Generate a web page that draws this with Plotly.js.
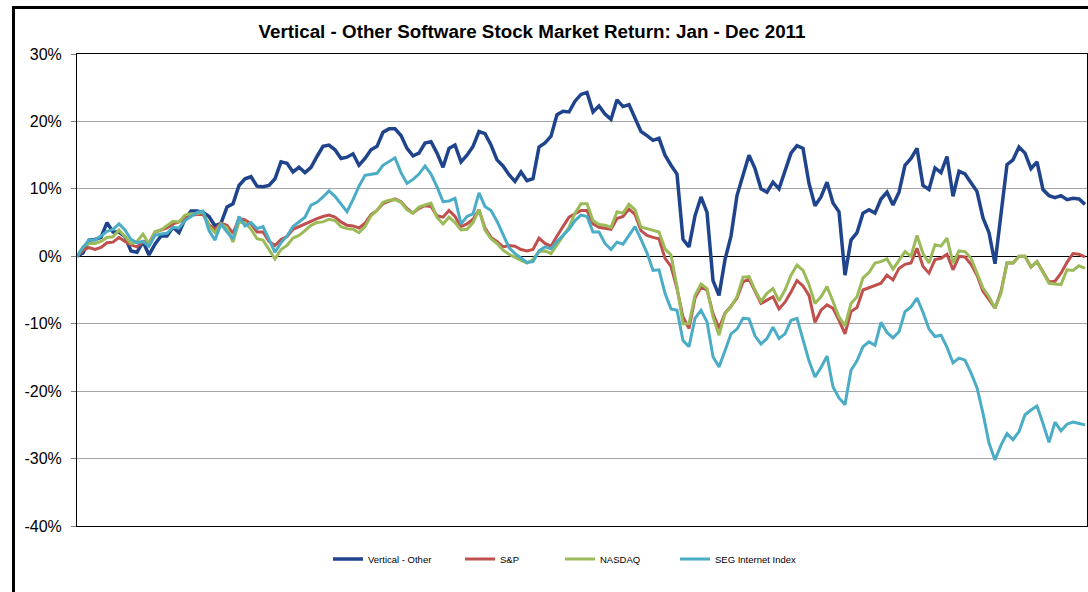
<!DOCTYPE html>
<html>
<head>
<meta charset="utf-8">
<script src="https://cdn.plot.ly/plotly-3.0.1.min.js"></script>
<style>
html,body{margin:0;padding:0;background:#fff;}
#chart{width:1088px;height:592px;}
</style>
</head>
<body>
<div id="chart"></div>
<script>
// Series names
const seriesNames = ["Vertical - Other", "S&P", "NASDAQ", "SEG Internet Index"];

// Return (%) sampled every ~2 trading days, Jan - Dec 2011
const verticalOther = [0,0.5,2.4,2.5,2.8,5.0,3.6,3.6,2.9,0.8,0.6,2.2,0.2,1.8,3.0,3.0,4.3,3.5,5.5,6.7,
6.7,6.5,5.9,4.5,4.9,7.3,7.8,10.5,11.5,11.8,10.4,10.3,10.5,11.5,14.0,13.8,12.5,13.2,12.4,13.2,
14.8,16.3,16.5,15.8,14.5,14.7,15.2,13.5,14.5,15.8,16.3,18.4,18.9,18.9,17.9,16.0,14.9,15.3,16.8,17.0,
15.3,13.2,16.0,16.5,14.0,15.0,16.3,18.5,18.2,16.5,14.3,13.4,12.1,11.1,12.5,11.2,11.5,16.2,16.8,17.8,
21.0,21.5,21.4,23.0,24.0,24.3,21.4,22.3,21.1,20.3,23.2,22.2,22.5,20.6,18.5,17.9,17.2,17.5,15.0,13.5,
12.2,2.5,1.4,6.0,8.8,6.5,-3.6,-5.8,-0.5,3.0,9.0,12.0,15.0,13.0,10.0,9.5,11.0,10.0,12.7,15.3,
16.4,16.0,10.8,7.5,8.8,11.0,7.9,6.6,-2.8,2.4,3.5,6.4,6.9,6.4,8.5,9.5,7.6,9.5,13.5,14.5,
16.0,10.5,9.9,13.1,12.4,14.8,8.9,12.6,12.2,11.0,9.6,5.7,3.5,-1.1,6.0,13.6,14.3,16.2,15.3,13.0,
14.0,9.9,9.0,8.7,9.0,8.4,8.6,8.5,7.7];

const sp = [0,0.9,1.3,1.0,1.3,2.0,2.1,2.8,2.2,1.7,1.4,2.2,2.0,3.6,3.9,4.2,4.8,5.1,5.6,6.1,
6.2,6.2,4.7,4.0,4.9,4.6,3.4,5.6,5.4,4.8,3.6,3.6,2.2,1.6,2.5,2.9,4.0,4.4,4.8,5.3,
5.6,5.9,6.1,5.8,5.1,4.6,4.5,4.2,4.9,6.2,6.8,7.8,8.2,8.5,8.1,7.1,6.4,7.1,7.5,7.4,
6.0,5.8,6.8,5.9,4.4,4.8,5.5,6.9,4.2,2.8,2.2,1.4,1.6,1.5,1.0,0.8,1.0,2.7,1.9,1.5,
3.0,4.4,5.8,6.3,6.8,6.8,4.8,4.3,4.2,4.0,5.6,5.9,7.0,6.2,3.8,3.1,2.8,2.6,-0.3,-1.5,
-4.8,-9.0,-10.7,-6.2,-4.6,-5.0,-8.5,-10.7,-8.4,-7.4,-6.2,-3.8,-3.4,-5.2,-7.0,-6.5,-6.0,-7.8,-6.8,-5.3,
-3.6,-4.4,-5.8,-9.8,-8.0,-7.2,-7.7,-9.5,-11.5,-8.2,-7.6,-5.0,-4.7,-4.3,-4.0,-2.8,-3.5,-1.8,-1.2,-1.0,
1.2,-1.5,-2.5,-0.5,-0.3,0.3,-2.0,0,-0.1,-1.2,-2.8,-5.2,-6.5,-7.7,-5.2,-1.0,-1.0,0,0,-1.6,
-0.8,-2.2,-3.8,-3.7,-2.5,-0.9,0.4,0.3,-0.1];

const nasdaq = [0,1.4,1.9,1.9,2.2,2.8,2.9,3.9,2.9,1.9,2.2,3.3,1.8,3.6,3.9,4.5,5.2,5.1,6.1,6.3,
6.3,6.6,4.5,3.5,4.8,4.2,2.1,5.1,5.0,4.0,2.6,2.4,1.0,-0.4,1.0,1.6,2.7,3.1,3.8,4.6,
5.0,5.1,5.5,5.3,4.4,4.1,4.0,3.5,4.4,6.0,6.8,8.0,8.3,8.4,8.0,6.9,6.4,7.3,7.6,7.9,
5.8,4.8,5.8,5.0,3.9,4.0,5.0,6.9,3.9,2.6,1.9,0.9,0.3,-0.2,-0.6,-1.0,-0.5,0.7,0.8,0.4,
1.7,3.0,4.3,6.4,7.8,7.8,5.3,4.7,4.6,4.3,6.6,6.4,7.7,6.9,4.3,4.1,3.9,3.6,1.1,0.2,
-4.5,-10.0,-10.0,-5.8,-4.1,-4.8,-9.0,-11.7,-8.5,-7.5,-6.0,-3.1,-3.0,-5.0,-6.7,-5.5,-4.8,-6.6,-5.0,-2.8,
-1.3,-2.1,-4.2,-7.0,-6.0,-4.5,-6.7,-9.0,-10.3,-7.0,-6.0,-3.2,-2.4,-1.0,-0.8,-0.4,-1.9,-0.6,0.7,0,
3.1,0.4,-1.0,1.7,1.5,2.7,-1.0,0.8,0.7,-0.3,-2.5,-4.7,-6.0,-7.7,-5.5,-1.0,-1.0,0,0,-1.6,
-0.8,-2.3,-4.0,-4.1,-4.2,-2.0,-2.1,-1.4,-1.8];

const segInternet = [0,1.3,2.4,2.4,3.0,3.7,4.0,4.8,3.9,2.5,2.0,2.2,1.5,3.1,3.3,3.4,4.3,4.2,5.3,5.9,
6.5,6.7,3.8,2.4,4.8,3.6,2.6,5.9,4.5,5.0,4.1,4.4,2.5,0.6,2.0,3.0,4.4,5.1,5.8,7.6,
8.0,8.8,9.7,8.9,7.8,6.6,8.4,10.4,12.0,12.2,12.3,13.5,14.0,14.6,12.4,10.8,11.4,12.2,13.4,12.2,
10.3,8.1,8.2,8.6,4.8,5.9,6.3,9.4,7.4,6.8,5.2,3.2,1.3,0.4,-0.2,-0.9,-0.8,0.8,1.4,1.1,
2.2,3.1,4.0,5.3,6.1,5.9,3.6,3.6,1.9,1.0,2.1,1.8,3.2,4.4,2.5,0.5,-2.1,-2.0,-5.5,-7.8,
-8.0,-12.5,-13.4,-9.2,-8.0,-9.7,-14.9,-16.4,-14.0,-11.5,-10.8,-9.2,-9.3,-11.8,-13.0,-12.2,-10.5,-12.2,-11.5,-9.5,
-9.2,-12.3,-15.5,-17.9,-16.5,-14.8,-19.4,-21.0,-22.0,-16.9,-15.5,-13.4,-12.7,-13.2,-9.8,-11.3,-12.1,-11.2,-8.2,-7.5,
-6.2,-8.3,-10.8,-11.9,-11.7,-13.5,-15.8,-15.1,-15.4,-17.3,-19.5,-23.3,-27.7,-30.2,-28.0,-26.3,-27.2,-26.0,-23.5,-22.8,
-22.2,-24.8,-27.6,-24.6,-25.9,-24.9,-24.6,-24.8,-25.0];

// Y axis ticks
const yTickVals = [-40, -30, -20, -10, 0, 10, 20, 30];
const yTickText = ["-40%", "-30%", "-20%", "-10%", "0%", "10%", "20%", "30%"];

const seriesData = [verticalOther, sp, nasdaq, segInternet];
const colors = ["#1F448C", "#C0504D", "#9BBB59", "#4BACC6"];
const widths = [3.5, 3, 3, 3];
const legendIds = ["legend", "legend2", "legend3", "legend4"];
const legendLeftPx = [328, 460, 560, 675];

const traces = seriesData.map((vals, k) => ({
  type: "scatter",
  mode: "lines",
  name: seriesNames[k],
  legend: legendIds[k],
  x: vals.map((_, i) => i),
  y: vals,
  line: {color: colors[k], width: widths[k]},
  hoverinfo: "skip"
}));

const FONT = "Arial, 'Liberation Sans', sans-serif";
const n = verticalOther.length;

const layout = {
  width: 1088,
  height: 592,
  margin: {l: 77, r: 1, t: 54, b: 66, pad: 0},
  paper_bgcolor: "#ffffff",
  plot_bgcolor: "#ffffff",
  font: {family: FONT, color: "#000"},
  title: {
    text: "Vertical - Other Software Stock Market Return: Jan - Dec 2011",
    font: {family: FONT, size: 18.8, weight: "bold", color: "#000"},
    xref: "paper", x: 0.4505, xanchor: "center",
    yref: "container", y: 0.947, yanchor: "middle"
  },
  xaxis: {
    range: [0, (n - 1) * 1010 / 1008],
    showgrid: false, zeroline: false,
    showticklabels: false, ticks: "",
    showline: true, linecolor: "#000", linewidth: 1, mirror: true,
    fixedrange: true, automargin: false
  },
  yaxis: {
    range: [-40, 30],
    tickvals: yTickVals, ticktext: yTickText,
    ticks: "outside", ticklen: 5, tickcolor: "#808080", tickwidth: 1,
    ticklabelstandoff: 6,
    tickfont: {family: FONT, size: 16, color: "#000"},
    showgrid: true, gridcolor: "#a6a6a6", gridwidth: 1,
    zeroline: true, zerolinecolor: "#000", zerolinewidth: 1,
    showline: true, linecolor: "#000", linewidth: 1, mirror: true,
    fixedrange: true, automargin: false
  },
  showlegend: true,
  shapes: [{
    type: "rect", xref: "paper", yref: "paper",
    x0: (13.5 - 77) / 1010, x1: 1.03,
    y0: -0.2, y1: (526 - 7.5) / 472,
    line: {color: "#000", width: 3},
    fillcolor: "rgba(0,0,0,0)",
    layer: "above"
  }]
};

legendIds.forEach((id, k) => {
  layout[id] = {
    orientation: "h",
    x: (legendLeftPx[k] - 77) / 1010, xanchor: "left",
    y: -0.07, yanchor: "middle",
    font: {family: FONT, size: 9.5, color: "#000"},
    bgcolor: "rgba(0,0,0,0)", borderwidth: 0
  };
});

Plotly.newPlot("chart", traces, layout, {displayModeBar: false, staticPlot: true});
</script>
</body>
</html>
